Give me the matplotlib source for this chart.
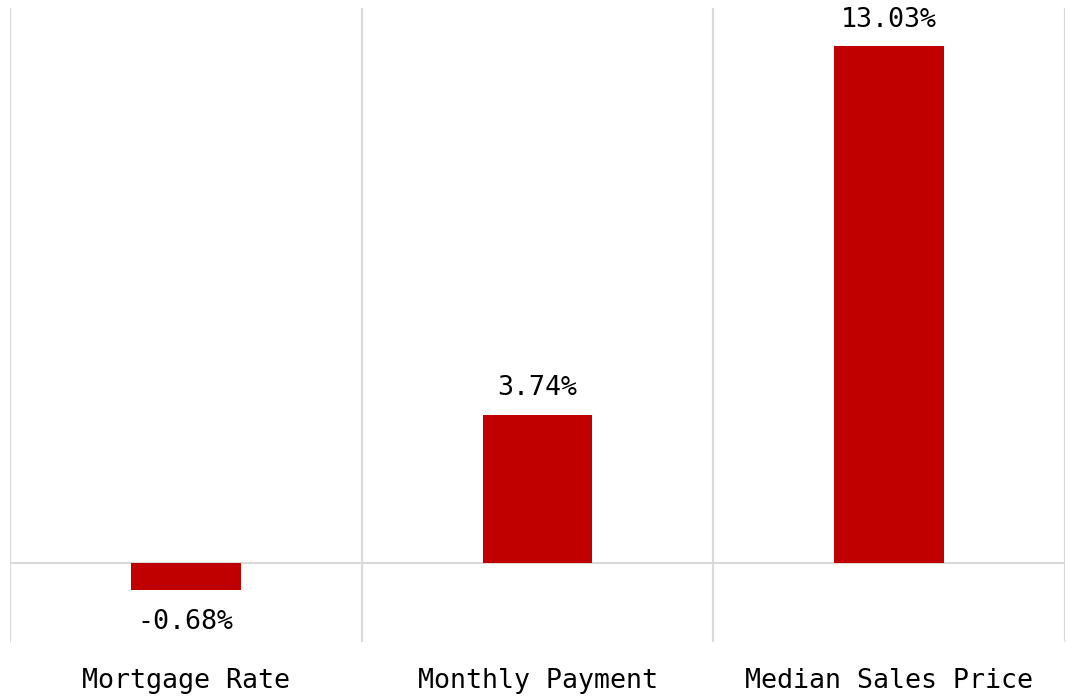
import matplotlib
matplotlib.use("Agg")
import matplotlib.pyplot as plt

categories = ["Mortgage Rate", "Monthly Payment", "Median Sales Price"]
changes = [-0.68, 3.74, 13.03]
labels = ["-0.68%", "3.74%", "13.03%"]

plt.rcParams['font.family'] = ['DejaVu Sans Mono']

fig = plt.figure(figsize=(10.66, 6.97), dpi=100)
ax = fig.add_axes([10 / 1066, 55 / 697, 1055 / 1066, 634 / 697])

x = range(len(categories))
ax.bar(x, changes, width=0.3125, color="#C00000", zorder=3)

ax.set_xlim(-0.5, len(categories) - 0.5)
ax.set_ylim(-2, 14)

# category separators and zero line
for sep in [i - 0.5 for i in range(len(categories) + 1)]:
    ax.axvline(sep, color="#D9D9D9", lw=1.5, zorder=1)
ax.axhline(0, color="#D9D9D9", lw=1.5, zorder=2)

for xi, v, lab in zip(x, changes, labels):
    if v >= 0:
        ax.annotate(lab, (xi, v), xytext=(0, 9.5), textcoords="offset points",
                    ha="center", va="bottom", fontsize=19.2)
    else:
        ax.annotate(lab, (xi, v), xytext=(0, -14), textcoords="offset points",
                    ha="center", va="top", fontsize=19.2)

ax.set_xticks(list(x))
ax.set_xticklabels(categories, fontsize=19.2)
ax.tick_params(axis="x", length=0, pad=19)
ax.set_yticks([])
for s in ax.spines.values():
    s.set_visible(False)

fig.savefig("out.png", dpi=100)
